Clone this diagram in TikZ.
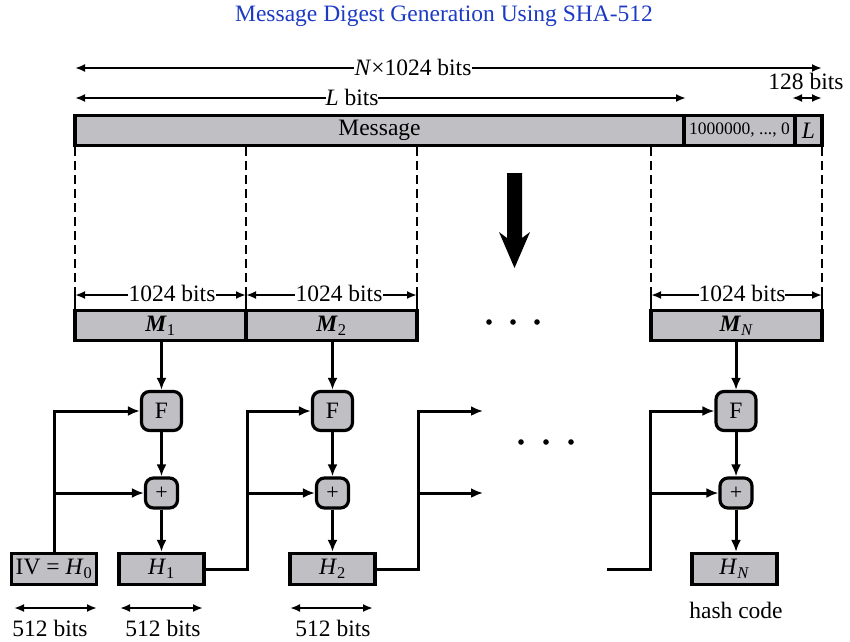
\documentclass[tikz,border=0pt]{standalone}
\usepackage{fontspec}
\setmainfont{Liberation Serif}
\usetikzlibrary{arrows.meta}
\definecolor{barGray}{RGB}{192,192,196}
\definecolor{titleBlue}{RGB}{28,58,196}
\tikzset{
  lbl/.style={font=\fontsize{23.5}{26}\selectfont},
  barbox/.style={draw, line width=3.2pt, fill=barGray, inner sep=0pt, minimum height=30pt, lbl},
  hbox/.style={draw, line width=3.2pt, fill=barGray, inner sep=0pt, minimum height=31pt, minimum width=85pt, lbl},
  fbox/.style={draw, line width=3.2pt, fill=barGray, rounded corners=8pt, inner sep=0pt, minimum width=40pt, minimum height=39pt, lbl},
  pbox/.style={draw, line width=3.2pt, fill=barGray, rounded corners=8pt, inner sep=0pt, minimum width=32pt, minimum height=30pt, font=\fontsize{22}{24}\selectfont},
  conn/.style={line width=3pt, -{Latex[length=12pt,width=10pt]}},
  dim/.style={line width=2pt, {Latex[length=10pt,width=8pt]}-{Latex[length=10pt,width=8pt]}},
  dimlbl/.style={lbl, fill=white, inner sep=1pt},
  cut/.style={line width=2.8pt, dash pattern=on 9pt off 5pt},
  dotmark/.style={fill=black, draw=none}
}
\begin{document}
\begin{tikzpicture}[x=1pt,y=-1pt]
\useasboundingbox (0,0) rectangle (850,641);

% title
\node[text=titleBlue, font=\fontsize{23.5}{26}\selectfont] (title) at (444,16) {Message Digest Generation Using SHA-512};

% top dimension lines
\coordinate (nA) at (75,68);
\coordinate (nB) at (822,68);
\draw[dim] (nA) -- (nB);
\node[dimlbl] (nlbl) at (413,67) {\textit{N}×1024 bits};

\coordinate (lA) at (75,98);
\coordinate (lB) at (686,98);
\draw[dim] (lA) -- (lB);
\node[dimlbl, inner sep=0pt] (llbl) at (352,97) {\textit{L} bits};

\coordinate (bA) at (792,98);
\coordinate (bB) at (822,98);
\draw[dim] (bA) -- (bB);
\node[lbl] (blbl) at (806,81) {128 bits};

% message bar
\node[barbox, minimum width=609pt] (msg) at (379.5,130.5) {Message};
\node[barbox, minimum width=111pt, font=\fontsize{17.5}{19}\selectfont] (pad) at (739.5,130.5) {1000000, ..., 0};
\node[barbox, minimum width=27pt] (len) at (808.5,130.5) {\textit{L}};

% blocks
\node[barbox, minimum width=171pt] (M1) at (160.5,325.5) {\textbf{\textit{M}}\textsubscript{1}};
\node[barbox, minimum width=171pt] (M2) at (331.5,325.5) {\textbf{\textit{M}}\textsubscript{2}};
\node[barbox, minimum width=171pt] (MN) at (736.5,325.5) {\textbf{\textit{M}}\textsubscript{\textit{N}}};

% dashed cut lines
\foreach \xx/\nm in {75/c1,246/c2,417/c3,651/c4,822/c5}{
  \coordinate (\nm top) at (\xx,147);
  \coordinate (\nm bot) at (\xx,310);
  \draw[cut] (\nm top) -- (\nm bot);
  \draw[line width=2pt] (\xx,287) -- (\xx,303);
}

% 1024 bits dims
\coordinate (d1a) at (75,295);  \coordinate (d1b) at (246,295);
\coordinate (d2a) at (246,295); \coordinate (d2b) at (417,295);
\coordinate (d3a) at (651,295); \coordinate (d3b) at (822,295);
\draw[dim] (d1a) -- (d1b);
\draw[dim] (d2a) -- (d2b);
\draw[dim] (d3a) -- (d3b);
\node[dimlbl] (k1) at (172,293) {1024 bits};
\node[dimlbl] (k2) at (339,293) {1024 bits};
\node[dimlbl, inner sep=0pt] (k3) at (742,293) {1024 bits};

% big arrow
\fill (507,173) -- (522,173) -- (522,238) -- (530,232) -- (514.5,268) -- (499,232) -- (507,238) -- cycle;

% dots
\foreach \xx in {489,513,537} \fill[dotmark] (\xx,322) circle (2.8pt);
\foreach \xx in {521,546,571} \fill[dotmark] (\xx,442) circle (2.8pt);

% compression stages
\node[fbox] (F1) at (161.5,411) {F};
\node[fbox] (F2) at (332.5,411) {F};
\node[fbox] (FN) at (736,411) {F};
\node[pbox] (P1) at (161.5,493) {+};
\node[pbox] (P2) at (332.5,493) {+};
\node[pbox] (PN) at (736,493) {+};

\node[hbox] (H0) at (54,569) {IV = \textit{H}\textsubscript{0}};
\node[hbox] (H1) at (161.5,569) {\textit{H}\textsubscript{1}};
\node[hbox] (H2) at (332.5,569) {\textit{H}\textsubscript{2}};
\node[hbox] (HN) at (734.5,569) {\textit{H}\textsubscript{\textit{N}}};

% vertical flow
\draw[conn] (M1.south -| F1) -- (F1.north);
\draw[conn] (M2.south -| F2) -- (F2.north);
\draw[conn] (MN.south -| FN) -- (FN.north);
\draw[conn] (F1) -- (P1);
\draw[conn] (F2) -- (P2);
\draw[conn] (FN) -- (PN);
\draw[conn] (P1) -- (H1.north -| P1);
\draw[conn] (P2) -- (H2.north -| P2);
\draw[conn] (PN) -- (HN.north -| PN);

% chaining
\draw[conn] (H0.north) |- (F1.west);
\draw[conn] (H0.north |- P1.west) -- (P1.west);

\coordinate (j1) at (247,569);
\draw[conn] (H1.east) -- (j1) |- (F2.west);
\draw[conn] (j1 |- P2.west) -- (P2.west);

\coordinate (j2) at (418,569);
\coordinate (o1) at (483,411);
\coordinate (o2) at (483,493);
\draw[conn] (H2.east) -- (j2) |- (o1);
\draw[conn] (j2 |- o2) -- (o2);

\coordinate (s) at (607,569);
\coordinate (jN) at (650,569);
\draw[conn] (s) -- (jN) |- (FN.west);
\draw[conn] (jN |- PN.west) -- (PN.west);

% 512 bits
\coordinate (e0a) at (14,608);  \coordinate (e0b) at (97,608);
\coordinate (e1a) at (120,608); \coordinate (e1b) at (203,608);
\coordinate (e2a) at (290,608); \coordinate (e2b) at (373,608);
\draw[dim] (e0a) -- (e0b);
\draw[dim] (e1a) -- (e1b);
\draw[dim] (e2a) -- (e2b);
\node[lbl] (w0) at (50,628) {512 bits};
\node[lbl] (w1) at (163,628) {512 bits};
\node[lbl] (w2) at (333,628) {512 bits};

\node[lbl] (hc) at (736,610) {hash code};
\end{tikzpicture}
\end{document}
